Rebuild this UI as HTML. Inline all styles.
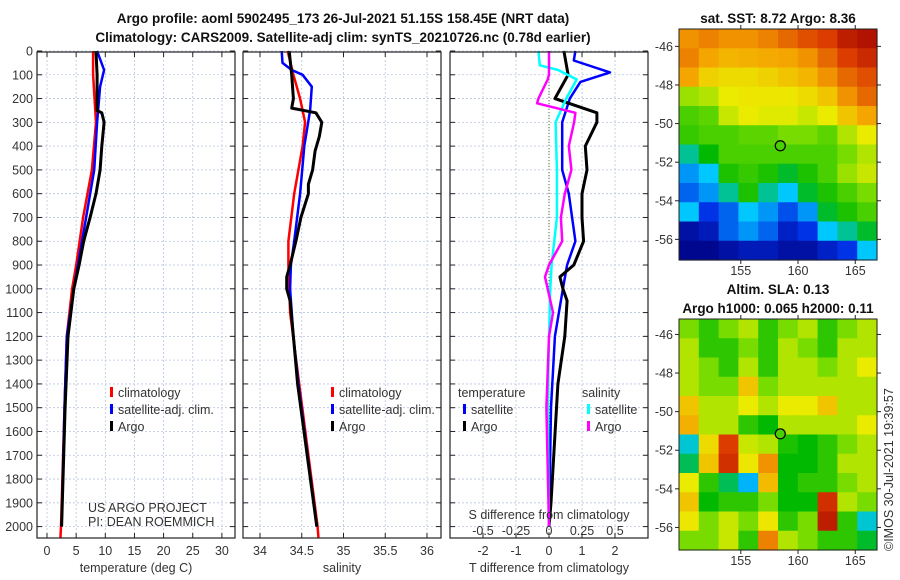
<!DOCTYPE html>
<html><head><meta charset="utf-8">
<style>
html,body{margin:0;padding:0;background:#fff;}
svg{display:block;font-family:"Liberation Sans","DejaVu Sans",sans-serif;}
.t{font-size:12.5px;fill:#333;}
.b{font-weight:bold;font-size:13.5px;fill:#111;}
</style></head>
<body>
<svg id="fig" width="900" height="580" viewBox="0 0 900 580">
<text class="b" x="343" y="23" text-anchor="middle">Argo profile: aoml 5902495_173 26-Jul-2021 51.15S 158.45E (NRT data)</text>
<text class="b" x="343" y="42" text-anchor="middle">Climatology: CARS2009. Satellite-adj clim: synTS_20210726.nc (0.78d earlier)</text>
<g id="g"></g>
<text class="b" x="778" y="23" text-anchor="middle">sat. SST: 8.72 Argo: 8.36</text>
<text class="b" x="778" y="294" text-anchor="middle">Altim. SLA: 0.13</text>
<text class="b" x="778" y="313" text-anchor="middle">Argo h1000: 0.065 h2000: 0.11</text>
<text class="t" x="0" y="0" transform="translate(893,551) rotate(-90)">©IMOS 30-Jul-2021 19:39:57</text>
</svg>
<script>
// ---- profile data ----
const depthTicks=[0,100,200,300,400,500,600,700,800,900,1000,1100,1200,1300,1400,1500,1600,1700,1800,1900,2000];
const tempTicks=[0,5,10,15,20,25,30];
const salTicks=[34,34.5,35,35.5,36];
const salTickLabels=["34","34.5","35","35.5","36"];
const dTTicks=[-2,-1,0,1,2];
const dSTickLabels=["-0.5","-0.25","0","0.25","0.5"];
const dSTickVals=[-0.5,-0.25,0,0.25,0.5];

const tClimDepth=[0,100,300,500,700,900,1000,1200,1500,2000,2050];
const tClimVal=[7.9,7.9,8.4,7.7,6.2,5.0,4.3,3.4,3.0,2.4,2.3];
const tSatDepth=[0,80,150,300,500,700,900,1000,1200,1500,2000];
const tSatVal=[8.6,9.8,9.1,8.6,8.1,6.7,5.3,4.6,3.4,3.0,2.5];
const tArgoDepth=[0,100,200,250,260,300,400,500,600,700,800,900,1000,1200,1500,2000];
const tArgoVal=[8.4,8.6,8.6,8.6,9.4,9.8,9.4,9.1,8.4,7.4,6.3,5.5,4.6,3.6,3.1,2.5];

const sClimDepth=[0,100,200,300,400,600,800,900,1100,1400,2000,2050];
const sClimVal=[34.33,34.40,34.48,34.54,34.51,34.41,34.34,34.34,34.36,34.47,34.69,34.70];
const sSatDepth=[0,50,80,100,150,250,400,600,800,900,1000,1200,1400,2000];
const sSatVal=[34.26,34.27,34.38,34.51,34.62,34.60,34.53,34.48,34.41,34.37,34.36,34.40,34.46,34.68];
const sArgoDepth=[0,100,200,240,260,300,360,420,500,560,600,700,800,900,950,1000,1050,1200,1400,2000];
const sArgoVal=[34.35,34.38,34.40,34.38,34.67,34.74,34.71,34.66,34.63,34.58,34.58,34.49,34.43,34.36,34.32,34.32,34.36,34.40,34.45,34.68];

const dTArgoDepth=[0,100,200,260,300,400,500,600,700,800,900,950,1000,1050,1200,1400,1900,2000];
const dTArgoVal=[0.45,0.58,0.18,1.45,1.45,1.1,1.15,1.0,1.0,1.05,0.75,0.33,0.42,0.55,0.48,0.27,0.06,0.0];
const dTSatDepth=[0,40,90,130,200,300,500,600,700,800,900,1000,1200,1500,2000];
const dTSatVal=[0.8,0.75,1.85,0.95,0.63,0.4,0.4,0.6,0.7,0.8,0.55,0.42,0.18,0.06,0.0];
const dSSatDepth=[0,60,80,120,200,300,500,700,900,1000,1200,1500,2000];
const dSSatVal=[-0.08,-0.07,0.07,0.21,0.13,0.05,0.06,0.06,0.02,0.01,0.0,-0.01,0.0];
const dSArgoDepth=[0,80,100,120,200,220,260,300,400,500,600,700,800,900,950,1000,1100,1200,1500,2000];
const dSArgoVal=[0.0,0.0,0.0,-0.01,-0.08,-0.09,0.2,0.19,0.15,0.17,0.12,0.09,0.1,0.0,-0.03,-0.01,0.03,0.0,-0.02,0.0];

// ---- map data (colour fraction 0..1) ----
const sstGrid=[
[0.80,0.82,0.80,0.80,0.82,0.85,0.88,0.90,0.95,0.97],
[0.82,0.78,0.75,0.76,0.77,0.78,0.80,0.85,0.90,0.93],
[0.78,0.70,0.68,0.68,0.70,0.72,0.75,0.80,0.85,0.88],
[0.58,0.60,0.65,0.66,0.66,0.66,0.68,0.72,0.80,0.85],
[0.50,0.52,0.62,0.65,0.64,0.64,0.62,0.65,0.72,0.78],
[0.48,0.50,0.50,0.52,0.52,0.55,0.55,0.52,0.60,0.65],
[0.35,0.42,0.50,0.50,0.50,0.50,0.50,0.50,0.55,0.60],
[0.25,0.30,0.45,0.48,0.45,0.40,0.45,0.50,0.58,0.62],
[0.20,0.25,0.35,0.45,0.35,0.30,0.40,0.45,0.50,0.55],
[0.30,0.15,0.20,0.30,0.25,0.18,0.25,0.40,0.45,0.50],
[0.05,0.08,0.20,0.25,0.20,0.10,0.15,0.30,0.35,0.40],
[0.02,0.02,0.05,0.08,0.08,0.05,0.05,0.10,0.15,0.30]];
const slaGrid=[
[0.55,0.47,0.55,0.60,0.47,0.55,0.60,0.47,0.55,0.60],
[0.60,0.47,0.47,0.55,0.47,0.60,0.55,0.47,0.60,0.60],
[0.60,0.55,0.47,0.60,0.47,0.60,0.60,0.55,0.60,0.65],
[0.60,0.55,0.55,0.72,0.55,0.60,0.60,0.60,0.60,0.60],
[0.72,0.60,0.60,0.65,0.60,0.65,0.65,0.72,0.60,0.60],
[0.76,0.60,0.60,0.47,0.42,0.60,0.60,0.60,0.60,0.65],
[0.32,0.68,0.90,0.62,0.60,0.45,0.42,0.47,0.55,0.60],
[0.38,0.72,0.92,0.66,0.80,0.42,0.42,0.47,0.60,0.60],
[0.65,0.47,0.38,0.28,0.74,0.42,0.47,0.47,0.55,0.60],
[0.72,0.42,0.47,0.47,0.55,0.42,0.42,0.92,0.60,0.55],
[0.66,0.55,0.62,0.55,0.66,0.47,0.55,0.95,0.47,0.32],
[0.55,0.55,0.62,0.47,0.82,0.60,0.55,0.47,0.47,0.40]];
const latTicks=[-46,-48,-50,-52,-54,-56];
const lonTicks=[155,160,165];
const floatLon=158.45, floatLat=-51.15;

const NS="http://www.w3.org/2000/svg";
const G=document.getElementById('g');
function el(tag,attrs,parent){const e=document.createElementNS(NS,tag);for(const k in attrs)e.setAttribute(k,attrs[k]);(parent||G).appendChild(e);return e;}

const yTop=52,yBot=538;
const yScale=d=>51+d*0.2378;
const panels=[
 {x0:37,x1:235,sx:v=>47+v*5.83,ticks:tempTicks,labels:tempTicks.map(String),title:"temperature (deg C)",name:"temperature-panel"},
 {x0:243,x1:441,sx:v=>260+(v-34)*83.5,ticks:salTicks,labels:salTickLabels,title:"salinity",name:"salinity-panel"},
 {x0:450,x1:648,sx:v=>549+v*33,ticks:dTTicks,labels:dTTicks.map(String),title:"T difference from climatology",name:"difference-panel"}];

panels.forEach((p,pi)=>{
  const g=el('g',{});
  
  
  p.g=g;
  depthTicks.forEach(d=>{const y=yScale(d);
    const l=el('line',{x1:p.x0,x2:p.x1,y1:y,y2:y,stroke:'#b8c4e0','stroke-width':0.8,'stroke-dasharray':'2,2'},g);
    
    
    el('line',{x1:p.x0,x2:p.x0+5,y1:y,y2:y,stroke:'#222'},g);
    el('line',{x1:p.x1-5,x2:p.x1,y1:y,y2:y,stroke:'#222'},g);
    if(pi===0){const t=el('text',{x:33,y:y+4.5,'text-anchor':'end',class:'t'},g);t.textContent=d;
      
      }
  });
  p.ticks.forEach((v,i)=>{const x=p.sx(v);
    const l=el('line',{x1:x,x2:x,y1:yTop,y2:yBot,stroke:'#b8c4e0','stroke-width':0.8,'stroke-dasharray':'2,2'},g);
    
    
    el('line',{x1:x,x2:x,y1:yBot-5,y2:yBot,stroke:'#222'},g);
    el('line',{x1:x,x2:x,y1:yTop,y2:yTop+5,stroke:'#222'},g);
    const t=el('text',{x:x,y:555,'text-anchor':'middle',class:'t'},g);t.textContent=p.labels[i];
    
    
  });
  const at=el('text',{x:(p.x0+p.x1)/2,y:572,'text-anchor':'middle',class:'t'},g);at.textContent=p.title;
  
  
});
const zl=el('line',{x1:549,x2:549,y1:yTop,y2:yBot,stroke:'#556b2f','stroke-width':1,'stroke-dasharray':'1,2'});



function series(p,depths,vals,color,w,name){
  const pts=depths.map((d,i)=>p.sx(vals[i]).toFixed(1)+','+yScale(d).toFixed(1)).join(' ');
  const pl=el('polyline',{points:pts,fill:'none',stroke:color,'stroke-width':w,'stroke-linejoin':'round'});
  
  
}
const P=panels, sS=v=>549+v*132;
series(P[0],tClimDepth,tClimVal,'#f00',2.5,'temp-climatology-line');
series(P[0],tSatDepth,tSatVal,'#00f',2.5,'temp-satellite-line');
series(P[0],tArgoDepth,tArgoVal,'#000',3,'temp-argo-line');
series(P[1],sClimDepth,sClimVal,'#f00',2.5,'sal-climatology-line');
series(P[1],sSatDepth,sSatVal,'#00f',2.5,'sal-satellite-line');
series(P[1],sArgoDepth,sArgoVal,'#000',3,'sal-argo-line');
series(P[2],dTSatDepth,dTSatVal,'#00f',2.5,'dT-satellite-line');
series(P[2],dTArgoDepth,dTArgoVal,'#000',3,'dT-argo-line');
series({sx:sS},dSSatDepth,dSSatVal,'#0ff',2.5,'dS-satellite-line');
series({sx:sS},dSArgoDepth,dSArgoVal,'#f0f',2.5,'dS-argo-line');

panels.forEach(p=>{const r=el('rect',{x:p.x0,y:yTop,width:p.x1-p.x0,height:yBot-yTop,fill:'none',stroke:'#222','stroke-width':1.2});
  
  });

const sl=el('text',{x:549,y:519,'text-anchor':'middle',class:'t'});sl.textContent="S difference from climatology";


dSTickVals.forEach((v,i)=>{const t=el('text',{x:sS(v),y:535,'text-anchor':'middle',class:'t'});t.textContent=dSTickLabels[i];
  
  });

function legend(x,y,items,name){const g=el('g',{});
  
  
  items.forEach((it,i)=>{const yy=y+i*17;
    if(it[1])el('rect',{x:x,y:yy-9,width:3,height:10,fill:it[1]},g);
    const t=el('text',{x:x+(it[1]?8:-5),y:yy+1,class:'t'},g);t.textContent=it[0];});}
legend(110,396,[["climatology","#f00"],["satellite-adj. clim.","#00f"],["Argo","#000"]],'temp-legend');
legend(331,396,[["climatology","#f00"],["satellite-adj. clim.","#00f"],["Argo","#000"]],'sal-legend');
legend(463,396,[["temperature",null],["satellite","#00f"],["Argo","#000"]],'dT-legend');
legend(587,396,[["salinity",null],["satellite","#0ff"],["Argo","#f0f"]],'dS-legend');
const c1=el('text',{x:88,y:512,class:'t','font-size':'11'});c1.textContent="US ARGO PROJECT";


const c2=el('text',{x:88,y:526,class:'t','font-size':'11'});c2.textContent="PI: DEAN ROEMMICH";



// colormap resembling the reference palette
const cmapStops=[[0,[0,0,130]],[0.15,[0,50,230]],[0.3,[0,200,255]],[0.42,[0,185,0]],[0.55,[120,220,0]],[0.65,[235,235,0]],[0.78,[245,165,0]],[0.9,[220,60,0]],[1,[160,0,0]]];
function cmap(f){f=Math.max(0,Math.min(1,f));
  for(let i=1;i<cmapStops.length;i++){if(f<=cmapStops[i][0]){const a=cmapStops[i-1],b=cmapStops[i],t=(f-a[0])/(b[0]-a[0]);
    const c=a[1].map((v,k)=>Math.round(v+(b[1][k]-v)*t));return `rgb(${c[0]},${c[1]},${c[2]})`;}}
  return 'rgb(160,0,0)';}
function drawMap(grid,top,latTop,name){
  const L=679,R=877,B=top+231,lonL=149.6,lonR=166.9;
  const lx=lon=>L+(lon-lonL)*(R-L)/(lonR-lonL);
  const ly=lat=>top+(latTop-lat)*19.3;
  const g=el('g',{});
  
  
  const rows=grid.length,cols=grid[0].length,cw=(R-L)/cols,ch=(B-top)/rows;
  grid.forEach((row,i)=>row.forEach((v,j)=>{
    const c=el('rect',{x:L+j*cw,y:top+i*ch,width:cw+0.6,height:ch+0.6,fill:cmap(v)},g);
    
    }));
  el('rect',{x:L,y:top,width:R-L,height:B-top,fill:'none',stroke:'#222'},g);
  latTicks.forEach(lat=>{const y=ly(lat);
    el('line',{x1:L-4,x2:L,y1:y,y2:y,stroke:'#222'},g);
    el('line',{x1:R,x2:R+4,y1:y,y2:y,stroke:'#222'},g);
    const t=el('text',{x:L-6,y:y+4.5,'text-anchor':'end',class:'t'},g);t.textContent=lat;});
  lonTicks.forEach(lon=>{const x=lx(lon);
    el('line',{x1:x,x2:x,y1:B,y2:B+4,stroke:'#222'},g);
    el('line',{x1:x,x2:x,y1:top-4,y2:top,stroke:'#222'},g);
    const t=el('text',{x:x,y:B+15,'text-anchor':'middle',class:'t'},g);t.textContent=lon;});
  const m=el('circle',{cx:lx(floatLon),cy:ly(floatLat),r:5,fill:cmap(0.5),stroke:'#000','stroke-width':1.2},g);
  
  
}
drawMap(sstGrid,29,-45.1,'sst-map');
drawMap(slaGrid,319,-45.2,'sla-map');
</script>
</body></html>
